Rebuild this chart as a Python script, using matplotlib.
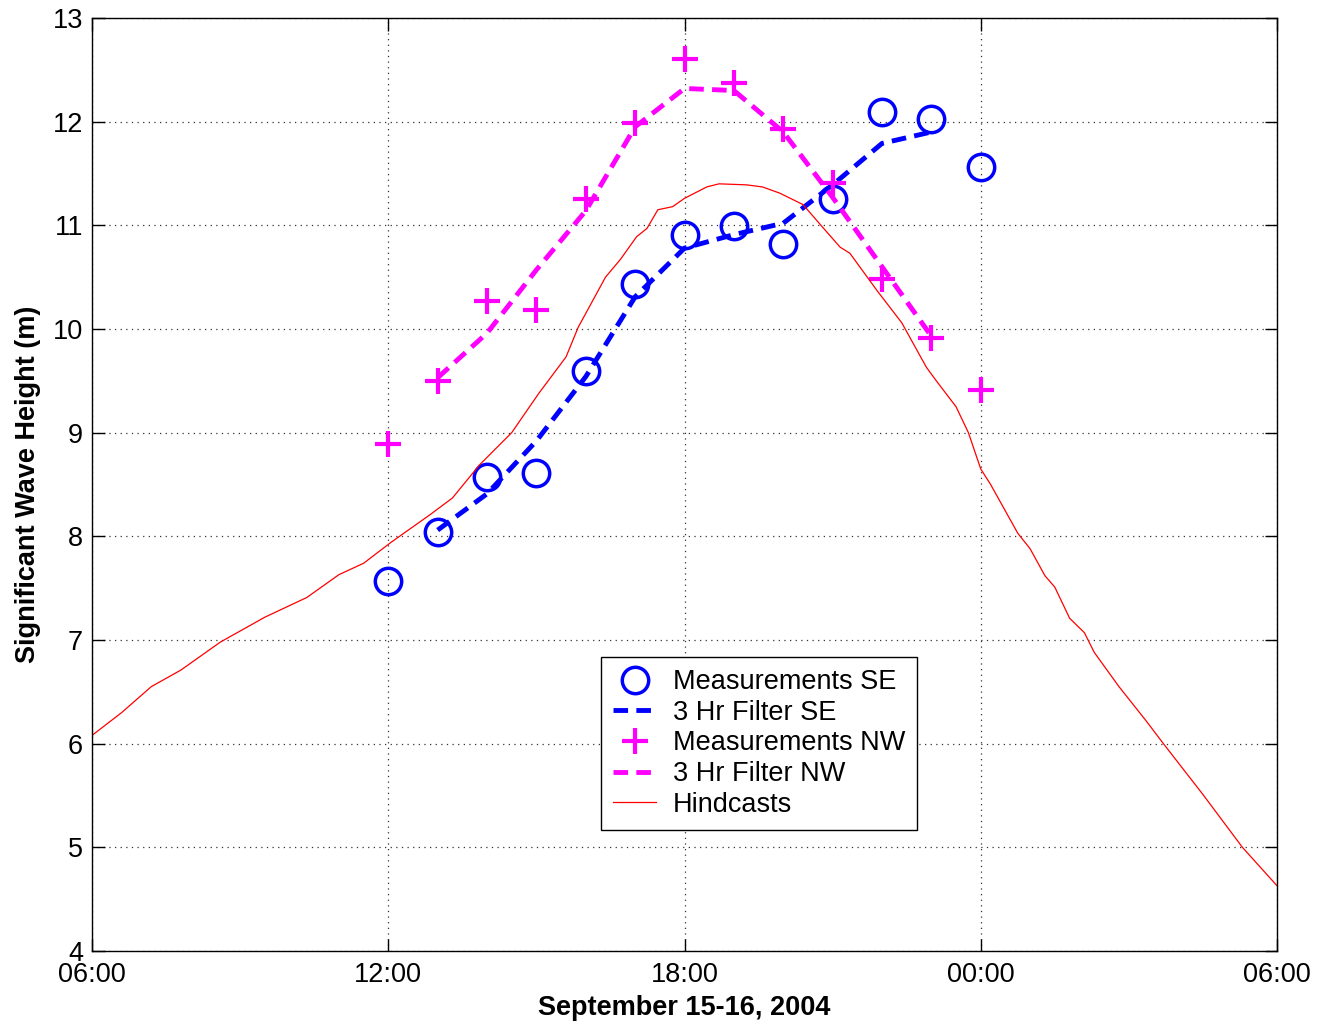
import matplotlib
matplotlib.use("Agg")
import matplotlib.pyplot as plt

plt.rcParams['font.family'] = ['Liberation Sans', 'DejaVu Sans']

# hours since midnight Sep 15 (24 = 00:00 Sep 16)
meas_hours = [12, 13, 14, 15, 16, 17, 18, 19, 20, 21, 22, 23, 24]
se_meas = [7.57, 8.04, 8.57, 8.61, 9.59, 10.43, 10.91, 10.99, 10.82, 11.25, 12.09, 12.03, 11.56]
nw_meas = [8.89, 9.50, 10.27, 10.18, 11.25, 11.99, 12.60, 12.37, 11.93, 11.41, 10.48, 9.91, 9.41]

filt_hours = [13, 14, 15, 16, 17, 18, 19, 20, 21, 22, 23]
se_filt = [8.06, 8.41, 8.92, 9.54, 10.31, 10.78, 10.91, 11.02, 11.39, 11.79, 11.90]
nw_filt = [9.53, 9.96, 10.57, 11.14, 11.95, 12.32, 12.30, 11.90, 11.27, 10.60, 9.93]

hind_hours = [6.0, 6.6, 7.2, 7.8, 8.6, 9.5, 10.35, 11.0, 11.5, 12.05, 12.85, 13.3,
              13.85, 14.5, 15.05, 15.6, 15.85, 16.0, 16.4, 16.7, 17.03, 17.24, 17.46,
              17.76, 18.0, 18.45, 18.7, 19.26, 19.58, 19.93, 20.4, 20.8, 21.15, 21.35,
              21.9, 22.4, 22.9, 23.1, 23.5, 23.75, 24.0, 24.2, 24.75, 25.0, 25.3, 25.5,
              25.8, 26.1, 26.3, 26.8, 27.35, 27.7, 28.5, 29.3, 30.0]
hindcast = [6.08, 6.30, 6.55, 6.71, 6.98, 7.22, 7.41, 7.63, 7.74, 7.94, 8.21, 8.37,
            8.69, 9.00, 9.38, 9.73, 10.02, 10.15, 10.50, 10.67, 10.89, 10.97, 11.15,
            11.18, 11.26, 11.37, 11.40, 11.39, 11.37, 11.31, 11.20, 10.98, 10.79, 10.73,
            10.37, 10.06, 9.63, 9.50, 9.25, 9.00, 8.65, 8.50, 8.03, 7.88, 7.62, 7.51,
            7.21, 7.07, 6.88, 6.55, 6.22, 6.00, 5.51, 5.00, 4.63]

xticks = [6, 12, 18, 24, 30]
xtick_labels = ['06:00', '12:00', '18:00', '00:00', '06:00']
yticks = list(range(4, 14))

fig = plt.figure(figsize=(13.17, 10.26), dpi=100)
ax = fig.add_axes([0.0699, 0.0731, 0.8997, 0.9094])

dash = (0, (3.0, 1.7))
ax.plot(meas_hours, se_meas, 'o', color='#0000ff', markersize=19, mew=2.5,
        mfc='none', label='Measurements SE')
ax.plot(filt_hours, se_filt, color='#0000ff', lw=3.5, linestyle=dash,
        label='3 Hr Filter SE')
ax.plot(meas_hours, nw_meas, '+', color='#ff00ff', markersize=19, mew=3,
        label='Measurements NW')
ax.plot(filt_hours, nw_filt, color='#ff00ff', lw=3.5, linestyle=dash,
        label='3 Hr Filter NW')
ax.plot(hind_hours, hindcast, color='#ff0000', lw=0.9, label='Hindcasts')

ax.set_xlim(6, 30)
ax.set_ylim(4, 13)
ax.set_xticks(xticks)
ax.set_xticklabels(xtick_labels)
ax.set_yticks(yticks)
ax.grid(True, linestyle=(0, (1, 3.5)), color='#333333', lw=0.9)
ax.tick_params(direction='in', length=9, width=1, top=True, right=True,
               labelsize=19.5, colors='black')
ax.tick_params(axis='x', pad=8)
ax.tick_params(axis='y', pad=6.5)
for s in ax.spines.values():
    s.set_linewidth(1)

ax.set_xlabel('September 15-16, 2004', fontsize=19.5, fontweight='bold', labelpad=5)
ax.set_ylabel('Significant Wave Height (m)', fontsize=19.5, fontweight='bold', labelpad=8)

leg = ax.legend(loc='upper left', bbox_to_anchor=(0.4295, 0.315), borderaxespad=0,
                fontsize=19.5, frameon=True, fancybox=False, framealpha=1,
                edgecolor='black', labelspacing=0.17, handlelength=1.6,
                handletextpad=0.6, borderpad=0.45)
leg.get_frame().set_linewidth(1)

fig.savefig('out.png', dpi=100)
